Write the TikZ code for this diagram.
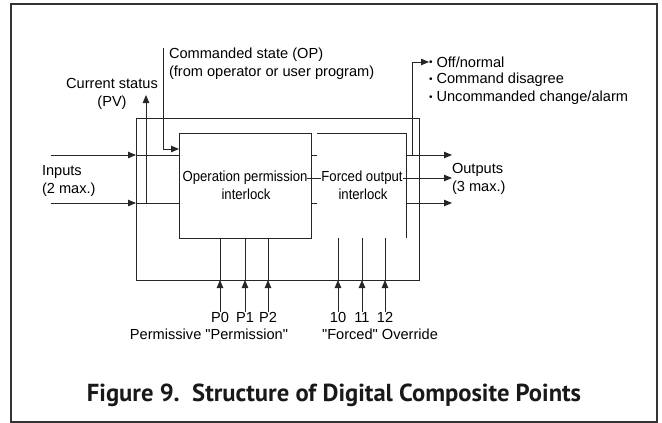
\documentclass[tikz,border=0pt]{standalone}
\usepackage{fontspec}
\setmainfont{Liberation Sans}[Ligatures=TeXOff]
\newfontfamily\boxfont[FakeStretch=0.9]{Liberation Sans}
\newfontfamily\capfont{PT Sans}
\usetikzlibrary{arrows.meta,calc}
\newcommand{\dotmark}{\raisebox{1.6pt}{\fontsize{10}{10}\selectfont •}\ }

\begin{document}
\begin{tikzpicture}[x=1pt,y=-1pt,
    every node/.style={inner sep=0pt,outer sep=0pt,font=\fontsize{14.6}{18}\selectfont},
    line/.style={draw=black!85,line width=0.9pt},
    sig/.style={line,-{Triangle[length=8pt,width=6.5pt]}},
    blk/.style={draw=black!85,line width=0.9pt},
    boxtext/.style={font=\boxfont\fontsize{14.6}{18}\selectfont}]
    \useasboundingbox (0,0) rectangle (662,423);
    \draw[black!80,line width=2pt] (11,4) rectangle (657,422);
    % blocks
    \node[blk,minimum width=283pt,minimum height=162pt] (comp) at (277.5,199) {};
    \node[blk,minimum width=132pt,minimum height=105pt] (opi) at (245,185.5) {};
    \node[minimum width=89pt,minimum height=105pt] (fo) at (361.5,185.5) {};
    \draw[line] (fo.north west) -- (fo.north east) -- (fo.south east);
    \node[boxtext] (op1) at (245,178) {Operation permission};
    \node[boxtext] (op2) at (246,194) {interlock};
    \node[boxtext] (fo1) at (362,178) {Forced output};
    \node[boxtext] (fo2) at (363,194) {interlock};
    % inputs
    \node[anchor=west,align=left] (inp) at (42,181) {Inputs\\(2 max.)};
    \coordinate (in1) at (51,155);
    \coordinate (in2) at (51,203);
    \foreach \c in {in1,in2} {
      \draw[sig] (\c) -- (\c -| comp.west);
      \draw[line] (\c -| comp.west) -- (\c -| opi.west);
      \draw[line] (\c -| opi.east) -- (\c -| fo.west);
    }
    \draw[line] (op1) -- (fo1);
    % outputs
    \node[anchor=west,align=left] (outs) at (452,179) {Outputs\\(3 max.)};
    \draw[sig] (in1 -| fo.east) -- (in1 -| outs.west);
    \draw[sig] (fo1) -- (fo1 -| outs.west);
    \draw[sig] (in2 -| fo.east) -- (in2 -| outs.west);
    % status
    \node[anchor=west] (st1) at (429,62) {\dotmark Off/normal};
    \node[anchor=west] (st2) at (429,80) {\dotmark Command disagree};
    \node[anchor=west] (st3) at (429,98) {\dotmark Uncommanded change/alarm};
    \coordinate (tap) at (412,155);
    \draw[sig] (tap) |- (st1);
    % current status
    \node[align=center] (pv) at (112,94) {Current status\\(PV)};
    \coordinate (pvtip) at (146,95);
    \draw[sig] (pvtip |- in2) -- (pvtip);
    % commanded state
    \node[anchor=west,align=left] (cmd) at (169,64) {Commanded state (OP)\\(from operator or user program)};
    \coordinate (cmdtop) at (163,48);
    \draw[sig] (cmdtop) |- ($(opi.north west)+(0,16)$);
    % permissives
    \foreach \n/\x in {0/220,1/245,2/268} {
      \node (p\n) at (\x,317) {P\n};
      \draw[sig] (p\n) -- (p\n |- comp.south);
      \draw[line] (p\n |- comp.south) -- (p\n |- opi.south);
    }
    \node (perm) at (209,334) {Permissive "Permission"};
    % overrides
    \foreach \n/\x in {10/338,11/362,12/385} {
      \node (f\n) at (\x,317) {\n};
      \draw[sig] (f\n) -- (f\n |- comp.south);
      \draw[line] (f\n |- comp.south) -- (f\n |- fo.south);
    }
    \node (force) at (380,334) {"Forced" Override};
    % caption
    \node[text=black!90,font=\capfont\bfseries\fontsize{24.6}{28}\selectfont] (cap) at (334,395) {Figure 9.~~Structure of Digital Composite Points};
\end{tikzpicture}
\end{document}
